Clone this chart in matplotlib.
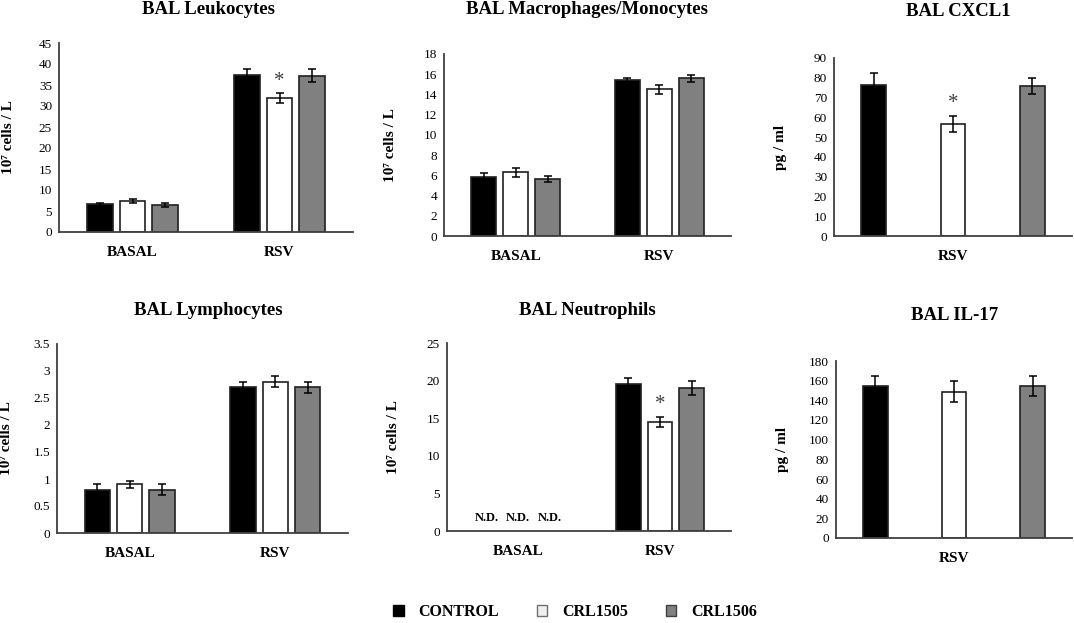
import numpy as np
import matplotlib.pyplot as plt
from matplotlib.patches import Patch
from matplotlib.ticker import FuncFormatter

plt.rcParams['font.family'] = ['Liberation Serif', 'DejaVu Serif']

# data: rows = series (CONTROL, CRL1505, CRL1506), columns = groups
series = ['CONTROL', 'CRL1505', 'CRL1506']
bar_colors = ['black', 'white', '#808080']
groups2 = ['BASAL', 'RSV']
groups1 = ['RSV']

leuko_mean = [[6.6, 37.5], [7.3, 31.8], [6.5, 37.2]]
leuko_err = [[0.3, 1.2], [0.5, 1.2], [0.5, 1.5]]

macro_mean = [[5.8, 15.4], [6.3, 14.5], [5.65, 15.6]]
macro_err = [[0.4, 0.27], [0.45, 0.43], [0.3, 0.33]]

cxcl1_mean = [[76.6], [56.7], [75.8]]
cxcl1_err = [[5.6], [4.2], [4.1]]

lympho_mean = [[0.8, 2.7], [0.9, 2.8], [0.8, 2.7]]
lympho_err = [[0.1, 0.1], [0.07, 0.1], [0.1, 0.1]]

# basal neutrophils were not detected (N.D.)
neutro_mean = [[np.nan, 19.5], [np.nan, 14.5], [np.nan, 19.0]]
neutro_err = [[np.nan, 0.8], [np.nan, 0.7], [np.nan, 0.9]]

il17_mean = [[154.7], [148.6], [154.7]]
il17_err = [[10.3], [10.8], [10.1]]

cells_label = '10\u2077 cells / L'
conc_label = 'pg / ml'

W, H = 1074, 623
fig = plt.figure(figsize=(W / 100, H / 100), dpi=100)


def px_rect(left, top, right, bottom):
    return [left / W, 1 - bottom / H, (right - left) / W, (bottom - top) / H]


def draw_panel(box, title, title_xy, groups, means, errs, ymax, ystep, ylabel,
               label_dx=-47, stars=(), nd=False):
    ax = fig.add_axes(px_rect(*box))
    ng = len(groups)
    for i, (m, e) in enumerate(zip(means, errs)):
        if ng == 1:
            x = np.array([i], dtype=float)
            width = 0.31
        else:
            x = np.arange(ng) + (i - 1) * 0.223
            width = 0.175
        m = np.array(m, dtype=float)
        e = np.array(e, dtype=float)
        ok = ~np.isnan(m)
        ax.bar(x[ok], m[ok], width, color=bar_colors[i], edgecolor='#202020',
               linewidth=1.2, zorder=2)
        ax.errorbar(x[ok], m[ok], yerr=e[ok], fmt='none', ecolor='black',
                    elinewidth=1.1, capsize=3, capthick=1.1, zorder=3)
        if nd:
            for xx in x[~ok]:
                ax.text(xx, ymax * 0.068, 'N.D.', ha='center', va='center',
                        fontsize=9, fontweight='bold')
        for (si, gi) in stars:
            if si == i:
                ax.annotate('*', (x[gi], m[gi] + e[gi]), xytext=(0, 2),
                            textcoords='offset points', ha='center', va='bottom',
                            fontsize=15, color='#404040')
    if ng == 1:
        ax.set_xlim(-0.5, 2.5)
        ax.set_xticks([1])
    else:
        ax.set_xlim(-0.5, ng - 0.5)
        ax.set_xticks(np.arange(ng))
    ax.set_xticklabels(groups, fontsize=11, fontweight='bold')
    ax.set_ylim(0, ymax)
    ax.set_yticks(np.arange(0, ymax + ystep / 2, ystep))
    ax.yaxis.set_major_formatter(FuncFormatter(lambda v, p: f'{v:g}'))
    ax.tick_params(axis='y', length=0, labelsize=9.5, pad=5)
    ax.tick_params(axis='x', length=0, pad=10)
    for s in ['top', 'right']:
        ax.spines[s].set_visible(False)
    for s in ['left', 'bottom']:
        ax.spines[s].set_color('#404040')
        ax.spines[s].set_linewidth(1.3)
    ax.set_ylabel(ylabel, fontsize=11, fontweight='bold')
    axw = box[2] - box[0]
    ax.yaxis.set_label_coords(label_dx / axw, 0.5)
    fig.text(title_xy[0] / W, 1 - title_xy[1] / H, title, ha='center',
             va='center', fontsize=13.5, fontweight='bold')
    return ax


draw_panel((59, 43, 353, 232), 'BAL Leukocytes', (208, 9), groups2,
           leuko_mean, leuko_err, 45, 5, cells_label, label_dx=-44, stars=[(1, 1)])
draw_panel((444, 54, 731, 236), 'BAL Macrophages/Monocytes', (587, 9), groups2,
           macro_mean, macro_err, 18, 2, cells_label)
draw_panel((834, 58, 1072, 236), 'BAL CXCL1', (958, 12), groups1,
           cxcl1_mean, cxcl1_err, 90, 10, conc_label, stars=[(1, 0)])
draw_panel((57, 344, 348, 533), 'BAL Lymphocytes', (208, 311), groups2,
           lympho_mean, lympho_err, 3.5, 0.5, cells_label, label_dx=-44)
draw_panel((447, 343, 731, 531), 'BAL Neutrophils', (587, 311), groups2,
           neutro_mean, neutro_err, 25, 5, cells_label, stars=[(1, 1)], nd=True)
draw_panel((836, 361, 1072, 538), 'BAL IL-17', (955, 315), groups1,
           il17_mean, il17_err, 180, 20, conc_label)

handles = [Patch(facecolor='black', edgecolor='black'),
           Patch(facecolor='#f0f0f0', edgecolor='#707070'),
           Patch(facecolor='#808080', edgecolor='#404040')]
fig.legend(handles, series, loc='center', bbox_to_anchor=(575 / W, 1 - 612 / H),
           ncol=3, frameon=False, handlelength=0.65, handleheight=0.65,
           handletextpad=0.9, columnspacing=2.4,
           prop={'weight': 'bold', 'size': 11.5})

fig.savefig('out.png', dpi=100)
